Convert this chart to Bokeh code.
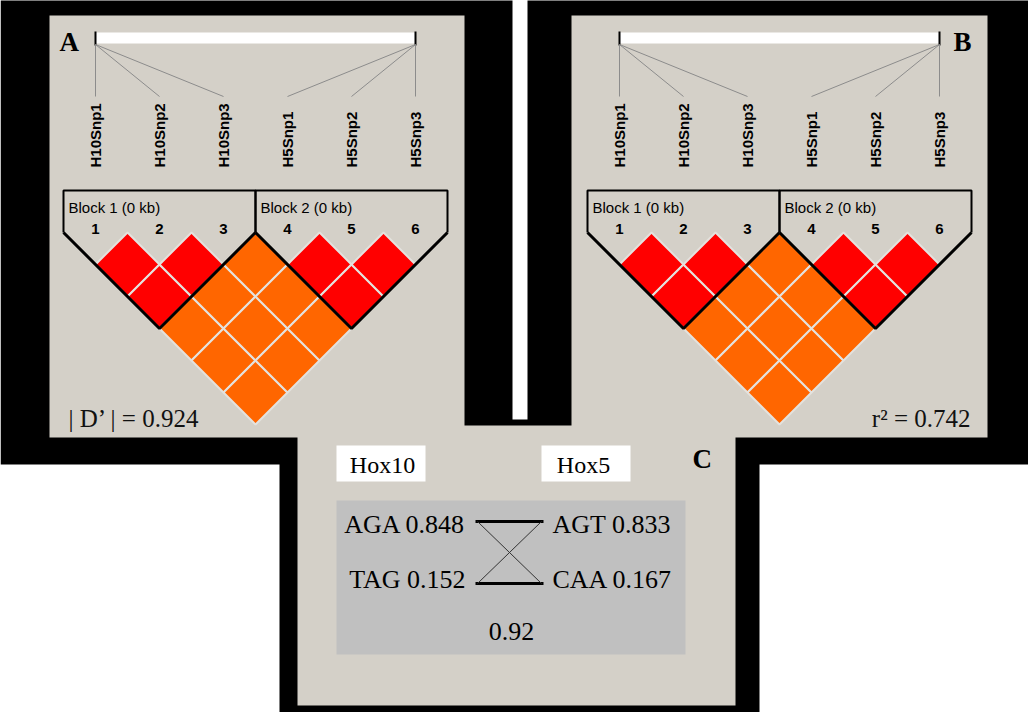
import numpy as np
from bokeh.plotting import figure
from bokeh.models import Range1d
from bokeh.embed import file_html
from bokeh.resources import INLINE
from bokeh.core.properties import value

# ---------------- data ----------------
snps = ["H10Snp1", "H10Snp2", "H10Snp3", "H5Snp1", "H5Snp2", "H5Snp3"]
snp_numbers = ["1", "2", "3", "4", "5", "6"]
snp_phys = [0.0, 0.0, 0.0, 1.0, 1.0, 1.0]          # relative position on the region bar
blocks = [(0, 2), (3, 5)]
block_labels = ["Block 1 (0 kb)", "Block 2 (0 kb)"]
# LD class of each pair (row i, columns j = i+1 .. 5): R = strong (red), O = orange
ld_A = [["R", "R", "O", "O", "O"],
        ["R", "O", "O", "O"],
        ["O", "O", "O"],
        ["R", "R"],
        ["R"]]
ld_B = [["R", "R", "O", "O", "O"],
        ["R", "O", "O", "O"],
        ["O", "O", "O"],
        ["R", "R"],
        ["R"]]
panel_letters = ["A", "B", "C"]
panel_stats = ["| D\u2019 | = 0.924", "r\u00b2 = 0.742"]
hox10_haps = ["AGA", "TAG"]
hox10_freqs = [0.848, 0.152]
hox5_haps = ["AGT", "CAA"]
hox5_freqs = [0.833, 0.167]
multi_dprime = 0.92
# connections (hox10 hap index, hox5 hap index, strong?)
hap_links = [(0, 0, True), (1, 1, True), (0, 1, False), (1, 0, False)]

# ---------------- style ----------------
BLACK = "#000000"
PANEL = "#D4D0C8"
BOX = "#C0C0C0"
RED = "#FF0000"
ORANGE = "#FF6600"
GAP = "#E4E2DE"
SANS = value("Liberation Sans")
SERIF = value("Liberation Serif")
colmap = {"R": RED, "O": ORANGE}

def bl(y, size):
    # baseline correction for rendered alphabetic text
    return y - 0.3 * size

W, H = 1028, 712
p = figure(width=W, height=H, x_range=Range1d(8, 8 + W), y_range=Range1d(8 + H, 8),
           output_backend="svg", toolbar_location=None, min_border=0,
           x_axis_location=None, y_axis_location=None)
p.grid.visible = False
p.outline_line_color = None
p.background_fill_color = "white"
p.border_fill_color = "white"

# ---------------- frames ----------------
p.quad(left=[8, 535, 472, 287], right=[520, 1050, 579, 767],
       top=[7, 7, 427, 445], bottom=[472, 472, 445, 740],
       fill_color=BLACK, line_color=None)
p.quad(left=[57, 579, 305], right=[472, 995, 743],
       top=[23, 23, 433], bottom=[445, 445, 713],
       fill_color=PANEL, line_color=None)

# ---------------- LD panels ----------------
spacing = 64
h = 32
y0 = 240
def ld_panel(ox, ld):
    xs = [103 + ox + spacing * i for i in range(len(snps))]
    # region bar
    p.quad(left=[xs[0]], right=[xs[-1]], top=[40], bottom=[51], fill_color="white", line_color=None)
    p.segment(x0=[xs[0], xs[-1]], y0=[39, 39], x1=[xs[0], xs[-1]], y1=[53, 53],
              line_color=BLACK, line_width=2)
    bar_x = [xs[0] + f * (xs[-1] - xs[0]) for f in snp_phys]
    p.segment(x0=bar_x, y0=[52] * len(snps), x1=xs, y1=[104] * len(snps),
              line_color="#8C8C8C", line_width=1)
    p.text(x=xs, y=[175] * len(snps), text=snps, angle=np.pi / 2,
           text_align="left", text_baseline="middle", text_font=SANS,
           text_font_style="bold", text_font_size="15px", text_color=BLACK)
    # cells
    pxs, pys, cols = [], [], []
    for i, row in enumerate(ld):
        for k, c in enumerate(row):
            j = i + 1 + k
            cx = (xs[i] + xs[j]) / 2
            cy = y0 + (j - i) * h
            pxs.append([cx, cx + h, cx, cx - h])
            pys.append([cy - h, cy, cy + h, cy])
            cols.append(colmap[c])
    p.patches(xs=pxs, ys=pys, fill_color=cols, line_color=GAP, line_width=2)
    # block outlines
    for (a, b), lab in zip(blocks, block_labels):
        left = xs[a] - h
        right = xs[b] + h
        mid = (xs[a] + xs[b]) / 2
        bot = y0 + (b - a + 1) * h
        p.line(x=[left, left, right, right], y=[y0, 198, 198, y0], line_color=BLACK, line_width=2)
        p.line(x=[left, mid, right], y=[y0, bot, y0], line_color=BLACK, line_width=3)
        p.text(x=[left + 5], y=[bl(219, 15)], text=[lab], text_font=SANS, text_font_size="15px",
               text_baseline="alphabetic", text_align="left", text_color=BLACK)
    p.text(x=xs, y=[bl(241, 15)] * len(snps), text=snp_numbers, text_font=SANS, text_font_style="bold",
           text_font_size="15px", text_align="center", text_baseline="alphabetic", text_color=BLACK)
    return xs

ld_panel(0, ld_A)
ld_panel(524, ld_B)

p.text(x=[67, 961, 700], y=[bl(58, 27), bl(58, 27), bl(475, 27)], text=panel_letters, text_font=SERIF,
       text_font_style="bold", text_font_size="27px", text_baseline="alphabetic", text_color=BLACK)
p.text(x=[76], y=[bl(433, 25)], text=[panel_stats[0]], text_font=SERIF, text_font_size="25px",
       text_align="left", text_baseline="alphabetic", text_color="#111111")
p.text(x=[978], y=[bl(433, 25)], text=[panel_stats[1]], text_font=SERIF, text_font_size="25px",
       text_align="right", text_baseline="alphabetic", text_color="#111111")

# ---------------- panel C ----------------
p.quad(left=[344, 549], right=[433, 638], top=[453, 453], bottom=[489, 489],
       fill_color="white", line_color=None)
p.text(x=[390, 591], y=[bl(480, 24)] * 2, text=["Hox10", "Hox5"], text_font=SERIF, text_font_size="24px",
       text_align="center", text_baseline="alphabetic", text_color=BLACK)
p.quad(left=[344], right=[693], top=[508], bottom=[662], fill_color=BOX, line_color=None)

hap_y = [bl(540, 26), bl(595, 26)]
p.text(x=[473] * 2, y=hap_y, text=[f"{a} {f:.3f}" for a, f in zip(hox10_haps, hox10_freqs)],
       text_font=SERIF, text_font_size="26px", text_align="right", text_baseline="alphabetic",
       text_color=BLACK)
p.text(x=[560] * 2, y=hap_y, text=[f"{a} {f:.3f}" for a, f in zip(hox5_haps, hox5_freqs)],
       text_font=SERIF, text_font_size="26px", text_align="left", text_baseline="alphabetic",
       text_color=BLACK)
link_y = [529, 591]
for a, b, strong in hap_links:
    if strong:
        p.segment(x0=[483], y0=[link_y[a]], x1=[551], y1=[link_y[b]], line_color=BLACK, line_width=3)
    else:
        p.segment(x0=[485], y0=[link_y[a]], x1=[549], y1=[link_y[b]], line_color="#333333", line_width=1)
p.text(x=[519], y=[bl(647, 26)], text=[f"{multi_dprime:.2f}"], text_font=SERIF, text_font_size="26px",
       text_align="center", text_baseline="alphabetic", text_color=BLACK)

open("out.html", "w").write(file_html(p, INLINE))
